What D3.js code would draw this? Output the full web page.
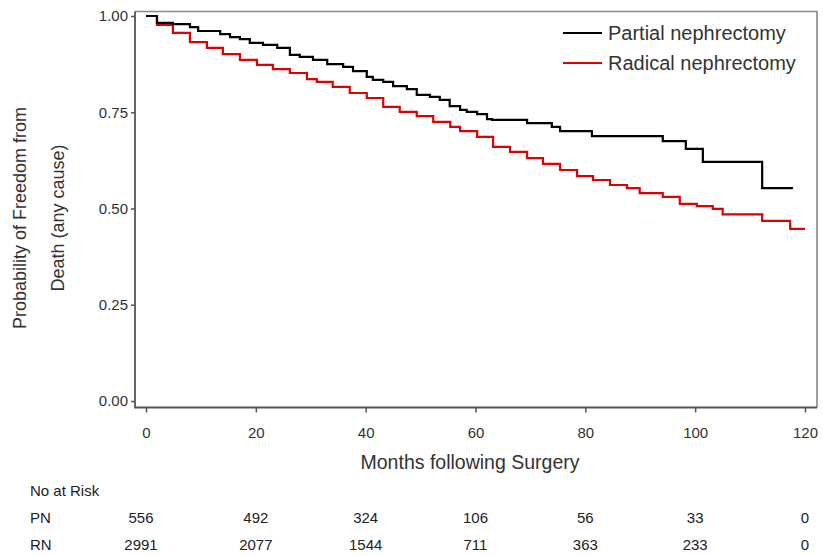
<!DOCTYPE html>
<html>
<head>
<meta charset="utf-8">
<script src="https://cdn.jsdelivr.net/npm/d3@7"></script>
<style>
  html,body{margin:0;padding:0;background:#fff;}
  svg{display:block;font-family:Arial,"Liberation Sans",sans-serif;}
</style>
</head>
<body>
<svg id="chart" width="823" height="556"></svg>
<script>
// ===== data =====
const pnMonths = [0,2.0,4.9,8.0,9.5,13.5,15.3,17.1,18.9,21.3,23.9,26.2,28.0,30.4,33.0,35.9,37.7,40.2,41.3,43.2,45.0,47.5,49.3,51.7,53.5,55.3,57.2,58.4,60.3,62.1,63.0,69.4,73.9,75.4,81.2,94.1,98.3,101.4,112.2,117.8];
const pnSurv   = [1.0,0.982,0.979,0.971,0.961,0.953,0.945,0.940,0.930,0.925,0.917,0.899,0.894,0.886,0.875,0.868,0.857,0.842,0.834,0.829,0.818,0.810,0.795,0.790,0.782,0.766,0.756,0.751,0.745,0.732,0.730,0.722,0.712,0.701,0.688,0.675,0.655,0.621,0.553,0.553];

const rnMonths = [0,2.0,4.9,8.0,11.1,14.0,17.1,20.2,23.1,26.2,29.3,31.1,34.0,37.1,40.2,43.2,46.2,49.3,52.3,55.4,57.2,60.3,63.2,66.3,69.4,72.3,75.4,78.5,81.4,84.5,87.6,89.9,94.1,97.2,100.3,103.2,105.0,112.2,117.3,120];
const rnSurv   = [1.0,0.977,0.956,0.932,0.917,0.901,0.886,0.873,0.862,0.852,0.836,0.829,0.816,0.800,0.787,0.764,0.751,0.740,0.725,0.712,0.701,0.686,0.660,0.647,0.631,0.616,0.600,0.584,0.574,0.561,0.553,0.540,0.530,0.512,0.506,0.499,0.485,0.468,0.447,0.447];

const xTicks = [0,20,40,60,80,100,120];
const yTicks = [0,0.25,0.5,0.75,1.0];

const groups   = ["Partial nephrectomy","Radical nephrectomy"];
const riskRows = ["PN","RN"];
const pnRisk   = [556,492,324,106,56,33,0];
const rnRisk   = [2991,2077,1544,711,363,233,0];

// ===== layout =====
const svg = d3.select("#chart");
const F = {left:135, right:817, top:11.5, bottom:407.5};
const AX = "#555";

const x = d3.scaleLinear().domain([0,120]).range([146,805]);
const y = d3.scaleLinear().domain([0,1]).range([401,16]);

// frame
svg.append("path")
  .attr("d",`M${F.left},${F.top}H${F.right}V${F.bottom}`)
  .attr("fill","none").attr("stroke","#888").attr("stroke-width",1.6);
svg.append("path")
  .attr("d",`M${F.left},${F.top}V${F.bottom}H${F.right}`)
  .attr("fill","none").attr("stroke",AX).attr("stroke-width",1.8);

// axes
const gy = svg.append("g")
  .attr("transform",`translate(${F.left},0)`)
  .call(d3.axisLeft(y).tickValues(yTicks).tickFormat(d3.format(".2f")).tickSize(4).tickPadding(3));
const gx = svg.append("g")
  .attr("transform",`translate(0,${F.bottom})`)
  .call(d3.axisBottom(x).tickValues(xTicks).tickSize(5).tickPadding(15));
for (const g of [gx,gy]){
  g.select(".domain").remove();
  g.selectAll("line").attr("stroke",AX).attr("stroke-width",1.5);
  g.selectAll("text").attr("fill","#333").attr("font-size","15px").attr("font-family","Arial,'Liberation Sans',sans-serif");
}

// titles
svg.append("text")
  .attr("x",470).attr("y",469)
  .attr("text-anchor","middle").attr("font-size","19.5px").attr("fill","#333")
  .text("Months following Surgery");

const yt = svg.append("g").attr("fill","#333").attr("font-size","18px").attr("text-anchor","middle");
yt.append("text").attr("transform","translate(26,218) rotate(-90)").text("Probability of Freedom from");
yt.append("text").attr("transform","translate(64,218) rotate(-90)").text("Death (any cause)");

// curves
const line = d3.line()
  .x(d => x(d[0]))
  .y(d => y(d[1]))
  .curve(d3.curveStepAfter);

const series = [
  {pts: d3.zip(pnMonths,pnSurv), color:"#000"},
  {pts: d3.zip(rnMonths,rnSurv), color:"#e00000"}
];
svg.append("g").selectAll("path")
  .data(series.slice().reverse())
  .join("path")
  .attr("d", d => line(d.pts))
  .attr("fill","none")
  .attr("stroke", d => d.color)
  .attr("stroke-width",2.2)
  .attr("stroke-linejoin","miter");

// legend
const lg = svg.append("g");
groups.forEach((name,i)=>{
  const yy = 33 + i*30;
  lg.append("line").attr("x1",563).attr("x2",602).attr("y1",yy).attr("y2",yy)
    .attr("stroke",series[i].color).attr("stroke-width",2.2);
  lg.append("text").attr("x",608).attr("y",yy+7)
    .attr("font-size","20px").attr("fill","#333").text(name);
});

// number at risk
const rt = svg.append("g").attr("fill","#222").attr("font-size","15px");
rt.append("text").attr("x",30).attr("y",496).text("No at Risk");
[pnRisk,rnRisk].forEach((vals,i)=>{
  const by = 523 + i*27;
  rt.append("text").attr("x",30).attr("y",by).text(riskRows[i]);
  rt.selectAll(null).data(vals).join("text")
    .attr("x",(d,j)=>x(xTicks[j]) - (j===0 ? 5 : 0))
    .attr("y",by)
    .attr("text-anchor","middle")
    .text(d=>d);
});
</script>
</body>
</html>
